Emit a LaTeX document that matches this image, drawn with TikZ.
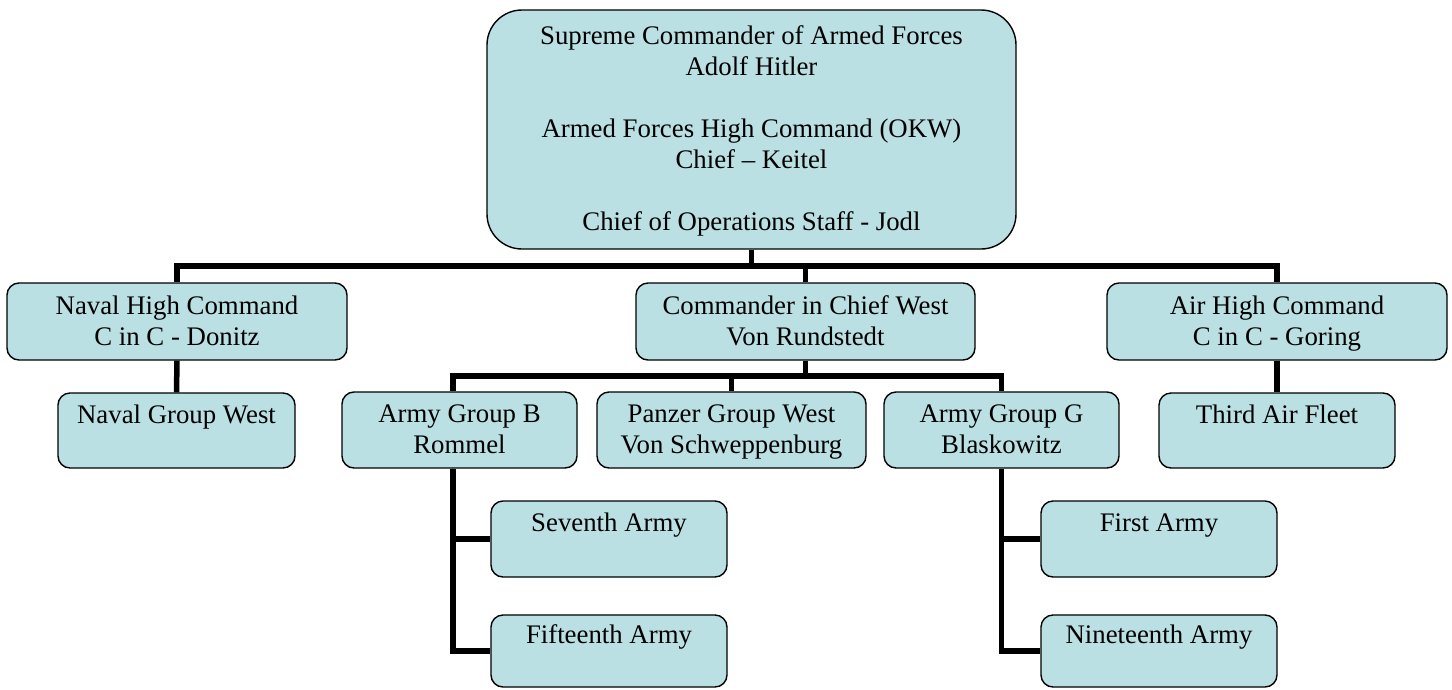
\documentclass[tikz,border=0pt]{standalone}
\usepackage{fontspec}
\setmainfont{Liberation Serif}
\definecolor{boxfill}{RGB}{186,224,227}
\tikzset{
  orgbox/.style={draw=black, line width=1.4pt, fill=boxfill, rounded corners=12pt,
    inner sep=0pt, align=center, font=\fontsize{26.8}{31}\selectfont},
  conn/.style={draw=black, line width=5.5pt, line join=miter}
}
\newcommand{\st}{\rule[-7.5pt]{0pt}{31pt}}
\begin{document}
\begin{tikzpicture}[x=1pt,y=-1pt]
\useasboundingbox (0,0) rectangle (1452,689);
% boxes
\node[orgbox, rounded corners=35pt, minimum width=529pt, minimum height=239pt] (top) at (751.5,129.5)
  {\st Supreme Commander of Armed Forces\\\st Adolf Hitler\\\st\\\st Armed Forces High Command (OKW)\\\st Chief -- Keitel\\\st\\\st Chief of Operations Staff - Jodl};
\node[orgbox, minimum width=340pt, minimum height=77pt] (naval) at (177,321.5) {\st Naval High Command\\\st C in C - Donitz};
\node[orgbox, minimum width=339pt, minimum height=77pt] (cinc) at (805.5,321.5) {\st Commander in Chief West\\\st Von Rundstedt};
\node[orgbox, minimum width=340pt, minimum height=77pt] (air) at (1277,321.5) {\st Air High Command\\\st C in C - Goring};
\node[orgbox, minimum width=237pt, minimum height=75pt] (ngw) at (176.5,430.5) {\st Naval Group West\\\st};
\node[orgbox, minimum width=235pt, minimum height=76pt] (agb) at (459.5,430) {\st Army Group B\\\st Rommel};
\node[orgbox, minimum width=269pt, minimum height=76pt] (pgw) at (731.5,430) {\st Panzer Group West\\\st Von Schweppenburg};
\node[orgbox, minimum width=235pt, minimum height=76pt] (agg) at (1001.5,430) {\st Army Group G\\\st Blaskowitz};
\node[orgbox, minimum width=236pt, minimum height=75pt] (taf) at (1277,430.5) {\st Third Air Fleet\\\st};
\node[orgbox, minimum width=236pt, minimum height=76pt] (sev) at (609,539) {\st Seventh Army\\\st};
\node[orgbox, minimum width=236pt, minimum height=72pt] (fif) at (609,651) {\st Fifteenth Army\\\st};
\node[orgbox, minimum width=236pt, minimum height=76pt] (fst) at (1159,539) {\st First Army\\\st};
\node[orgbox, minimum width=236pt, minimum height=72pt] (nin) at (1159,651) {\st Nineteenth Army\\\st};
% bus coordinates
\coordinate (bus1) at (751.5,266);
\coordinate (bus2) at (805.5,376);
\coordinate (agbx) at (453,0);
% connectors
\draw[conn] (top.south) -- (bus1) -| (naval.north);
\draw[conn] (bus1) -| (air.north);
\draw[conn] (bus1) -| (cinc.north);
\draw[conn] (naval.south) -- (ngw.north);
\draw[conn] (air.south) -- (taf.north);
\draw[conn] (cinc.south) -- (bus2) -| (agbx |- agb.north);
\draw[conn] (bus2) -| (pgw.north);
\draw[conn] (bus2) -| (agg.north);
\draw[conn] (agbx |- agb.south) |- (fif.west);
\draw[conn] (agbx |- sev.west) -- (sev.west);
\draw[conn] (agg.south) |- (nin.west);
\draw[conn] (agg.south |- fst.west) -- (fst.west);
\end{tikzpicture}
\end{document}
